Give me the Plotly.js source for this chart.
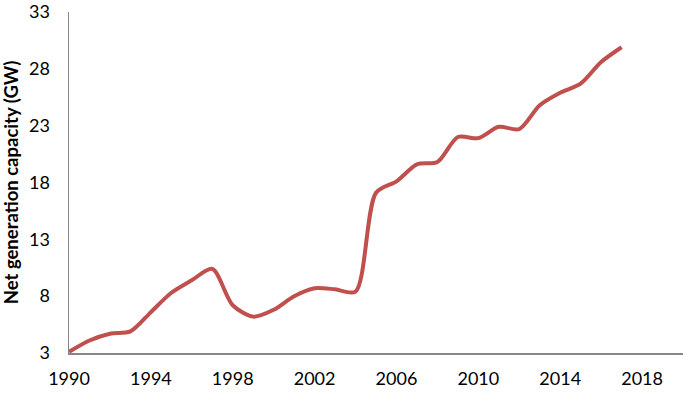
<!DOCTYPE html>
<html>
<head>
<meta charset="utf-8">
<script src="https://cdn.plot.ly/plotly-3.0.1.min.js"></script>
<style>
  html, body { margin: 0; padding: 0; background: #fff; }
  #chart { width: 685px; height: 393px; }
</style>
</head>
<body>
<div id="chart"></div>
<script>
var years = [1990, 1991, 1992, 1993, 1994, 1995, 1996, 1997, 1998, 1999,
             2000, 2001, 2002, 2003, 2004, 2005, 2006, 2007, 2008, 2009,
             2010, 2011, 2012, 2013, 2014, 2015, 2016, 2017];
var capacity = [3.1, 4.1, 4.7, 4.9, 6.6, 8.3, 9.4, 10.4, 7.2, 6.2,
                6.8, 8.0, 8.7, 8.6, 8.4, 17.1, 18.1, 19.6, 19.8, 22.0,
                21.9, 22.9, 22.7, 24.8, 25.9, 26.7, 28.6, 29.9];
var yTicks = [3, 8, 13, 18, 23, 28, 33];
var xTicks = [1990, 1994, 1998, 2002, 2006, 2010, 2014, 2018];

var trace = {
  x: years,
  y: capacity,
  type: 'scatter',
  mode: 'lines',
  line: { color: '#C0504D', width: 4, shape: 'spline', smoothing: 0.8 },
  hoverinfo: 'x+y'
};

var layout = {
  width: 685,
  height: 393,
  margin: { l: 69, r: 2, t: 12, b: 40 },
  paper_bgcolor: '#fff',
  plot_bgcolor: '#fff',
  showlegend: false,
  font: { family: 'Lato, "Open Sans", sans-serif', size: 18, color: '#000' },
  xaxis: {
    range: [1990, 2020],
    tickmode: 'array',
    tickvals: xTicks,
    ticktext: xTicks.map(String),
    showgrid: false,
    zeroline: false,
    showline: true,
    linecolor: '#868686',
    linewidth: 1.5,
    ticks: '',
    ticklabelstandoff: 9,
    tickfont: { size: 18 }
  },
  yaxis: {
    range: [3, 33],
    tickmode: 'array',
    tickvals: yTicks,
    ticktext: yTicks.map(String),
    showgrid: false,
    zeroline: false,
    showline: true,
    linecolor: '#868686',
    linewidth: 1.5,
    ticks: '',
    ticklabelstandoff: 14,
    tickfont: { size: 18 },
    title: {
      text: '<b>Net generation capacity (GW)</b>',
      font: { size: 18.5 },
      standoff: 8
    }
  }
};

Plotly.newPlot('chart', [trace], layout, { displayModeBar: false, staticPlot: true });
</script>
</body>
</html>
